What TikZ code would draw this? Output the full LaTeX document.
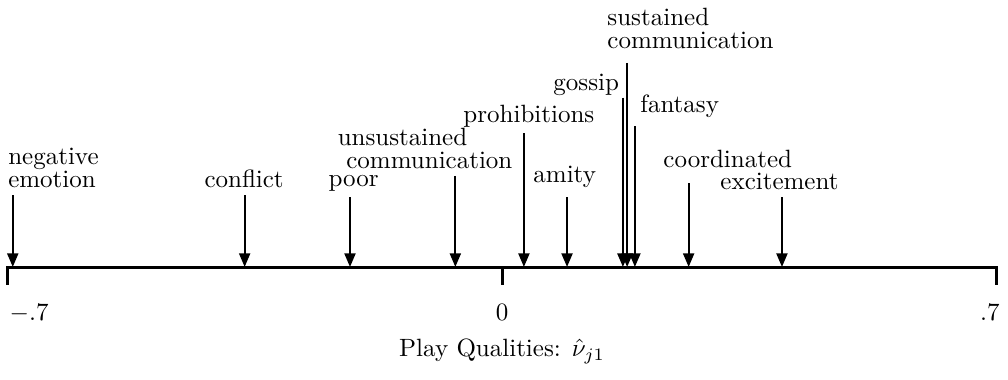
\documentclass[tikz,border=0pt]{standalone}
\usepackage{amsmath}
\usepackage{tikz}
\usetikzlibrary{arrows.meta, positioning}
\tikzset{
  axisline/.style={line width=1.2pt, color=black},
  pointer/.style={-{Triangle[width=4.4pt,length=5.5pt]}, line width=0.9pt, color=black},
  quality/.style={font=\fontsize{10}{9.2}\selectfont, align=left, inner sep=0pt, anchor=base west},
  ticklabel/.style={font=\fontsize{10}{12}\selectfont, inner sep=0pt}
}

\begin{document}
\begin{tikzpicture}[x=9.94cm, y=1cm]
  \useasboundingbox (-7.058cm,-1.575cm) rectangle (7.114cm,3.754cm);

  % Axis with end and centre ticks
  \draw[axisline] (-0.7,-0.25) -- (-0.7,0) -- (0.7,0) -- (0.7,-0.25);
  \draw[axisline] (0,0) -- (0,-0.25);

  % Tick labels and axis title
  \node[ticklabel, anchor=base west] (lo) at (-0.697,-0.75) {$-.7$};
  \node[ticklabel, anchor=base] (mid) at (0,-0.75) {$0$};
  \node[ticklabel, anchor=base east] (hi) at (0.7044,-0.75) {$.7$};
  \node[ticklabel, anchor=base] (title) at (0,-1.265) {Play Qualities: $\hat{\nu}_{j1}$};

  % Pointers: name / value / height of tail
  \foreach \n/\v/\h in {neg/-0.692/1.01, conf/-0.364/1.01, poor/-0.215/0.98,
      unsus/-0.066/1.28, proh/0.031/1.88, amity/0.092/0.98, gossip/0.171/2.38,
      sus/0.177/2.87, fant/0.188/1.98, coord/0.264/1.18, excit/0.396/0.98}{
    \coordinate (\n_top) at (\v,\h);
    \coordinate (\n_pt) at (\v,0);
    \draw[pointer] (\n_top) -- (\n_pt);
  }

  % Quality labels (placed at the baseline of their last line)
  \node[quality] (neg) at (-0.699,1.111) {negative\\emotion};
  \node[quality] (conf) at (-0.4215,1.111) {conflict};
  \node[quality] (poor) at (-0.246,1.125) {poor};
  \node[quality] (unsus) at (-0.233,1.392) {unsustained\\\hspace*{0.8ex}communication};
  \node[quality] (proh) at (-0.0552,2.025) {prohibitions};
  \node[quality] (amity) at (0.0438,1.195) {amity};
  \node[quality] (gossip) at (0.0721,2.475) {gossip};
  \node[quality] (sus) at (0.1485,3.079) {sustained\\communication};
  \node[quality] (fant) at (0.195,2.179) {fantasy};
  \node[quality] (coord) at (0.2277,1.406) {coordinated};
  \node[quality] (excit) at (0.3083,1.083) {excitement};
\end{tikzpicture}
\end{document}
